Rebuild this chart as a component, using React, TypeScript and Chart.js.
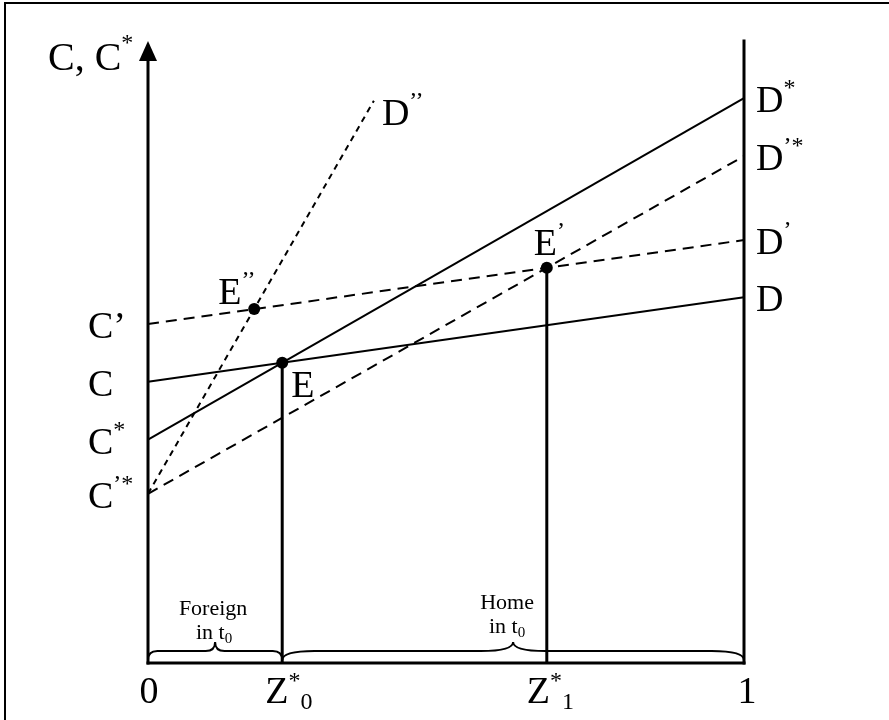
import React, { useEffect, useRef } from "react";
import { Chart, registerables } from "chart.js";

Chart.register(...registerables);

// ---- data (x: share 0..1, y: consumption level, axis top = 10) ----
const X_RANGE = [0, 1];
const Y_RANGE = [0, 10];
// straight lines given by their value at x = 0 and at x = 1
const lineLabels = ["D", "D*", "D'", "D'*"];
const valuesAtZero = [4.52, 3.59, 5.45, 2.72];
const valuesAtOne = [5.88, 9.08, 6.8, 8.15];
// the steep D'' line (starts at C'*)
const dDoubleX = [0, 0.379];
const dDoubleY = [2.72, 9.04];
// left intercept labels, in order of valuesAtZero
const leftLabels = ["C", "C*", "C’", "C’*"];

const FAM = '"Liberation Serif", "Times New Roman", Times, serif';

type Pt = { x: number; y: number };
function intersect(a1: Pt, a2: Pt, b1: Pt, b2: Pt): Pt {
  const d = (a1.x - a2.x) * (b1.y - b2.y) - (a1.y - a2.y) * (b1.x - b2.x);
  const t = ((a1.x - b1.x) * (b1.y - b2.y) - (a1.y - b1.y) * (b1.x - b2.x)) / d;
  return { x: a1.x + t * (a2.x - a1.x), y: a1.y + t * (a2.y - a1.y) };
}
const linePts = (i: number): Pt[] => [
  { x: X_RANGE[0], y: valuesAtZero[i] },
  { x: X_RANGE[1], y: valuesAtOne[i] },
];
const dDoublePts: Pt[] = [
  { x: dDoubleX[0], y: dDoubleY[0] },
  { x: dDoubleX[1], y: dDoubleY[1] },
];
const E = intersect(linePts(0)[0], linePts(0)[1], linePts(1)[0], linePts(1)[1]);
const E1 = intersect(linePts(2)[0], linePts(2)[1], linePts(3)[0], linePts(3)[1]);
const E2 = intersect(linePts(2)[0], linePts(2)[1], dDoublePts[0], dDoublePts[1]);

type Part = { t: string; size: number; dy?: number };
function drawParts(ctx: CanvasRenderingContext2D, x: number, y: number, parts: Part[], align: "left" | "center" = "left") {
  const widths = parts.map((p) => {
    ctx.font = `${p.size}px ${FAM}`;
    return ctx.measureText(p.t).width;
  });
  const total = widths.reduce((a, b) => a + b, 0);
  let cx = align === "center" ? x - total / 2 : x;
  ctx.textAlign = "left";
  ctx.textBaseline = "alphabetic";
  parts.forEach((p, i) => {
    ctx.font = `${p.size}px ${FAM}`;
    ctx.fillText(p.t, cx, y + (p.dy || 0));
    cx += widths[i];
  });
}

const BIG = 38;
const SUP = 24;
const sup = (t: string, dy = -17): Part => ({ t, size: SUP, dy });
function labelParts(label: string): Part[] {
  if (label === "C’") return [{ t: "C’", size: BIG }];
  const base = label[0];
  const rest = label.slice(1).replace(/'/g, "’");
  const parts: Part[] = [{ t: base, size: BIG }];
  if (rest) parts.push(sup(rest));
  return parts;
}

function drawBrace(ctx: CanvasRenderingContext2D, x0: number, x1: number, yb: number) {
  const w = x1 - x0;
  const r = w * 0.07;
  const mid = (x0 + x1) / 2;
  const yh = yb - 12;
  const yt = yb - 21;
  const ye = yb - 3;
  ctx.beginPath();
  ctx.moveTo(x0, ye);
  ctx.quadraticCurveTo(x0, yh, x0 + r, yh);
  ctx.lineTo(mid - r, yh);
  ctx.quadraticCurveTo(mid, yh, mid, yt);
  ctx.quadraticCurveTo(mid, yh, mid + r, yh);
  ctx.lineTo(x1 - r, yh);
  ctx.quadraticCurveTo(x1, yh, x1, ye);
  ctx.stroke();
}

const diagramPlugin = {
  id: "diagram",
  beforeDraw(chart: any) {
    const ctx = chart.ctx as CanvasRenderingContext2D;
    ctx.save();
    ctx.fillStyle = "#fff";
    ctx.fillRect(0, 0, chart.width, chart.height);
    ctx.restore();
  },
  afterDraw(chart: any) {
    const ctx = chart.ctx as CanvasRenderingContext2D;
    const xs = chart.scales.x;
    const ys = chart.scales.y;
    const px = (v: number) => xs.getPixelForValue(v);
    const py = (v: number) => ys.getPixelForValue(v);
    const left = px(X_RANGE[0]);
    const right = px(X_RANGE[1]);
    const base = py(Y_RANGE[0]);
    const top = py(Y_RANGE[1]);
    ctx.save();
    ctx.fillStyle = "#000";
    ctx.strokeStyle = "#000";

    // outer frame (left + top)
    ctx.lineWidth = 2;
    ctx.beginPath();
    ctx.moveTo(5, chart.height);
    ctx.lineTo(5, 3);
    ctx.lineTo(chart.width, 3);
    ctx.stroke();

    // arrow head
    ctx.beginPath();
    ctx.moveTo(left, top);
    ctx.lineTo(left - 9, top + 20);
    ctx.lineTo(left + 9, top + 20);
    ctx.closePath();
    ctx.fill();

    // axis title
    drawParts(ctx, 48, 70, [{ t: "C, C", size: 40 }, sup("*", -20)]);

    // left intercept labels
    valuesAtZero.forEach((v, i) => {
      drawParts(ctx, left - 60, py(v) + 14, labelParts(leftLabels[i]));
    });
    // right end labels
    valuesAtOne.forEach((v, i) => {
      drawParts(ctx, right + 12, py(v) + 14, labelParts(lineLabels[i]));
    });
    // D'' label
    drawParts(ctx, px(dDoubleX[1]) + 8, py(dDoubleY[1]) + 24, [{ t: "D", size: BIG }, sup("’’")]);

    // equilibrium labels
    drawParts(ctx, px(E2.x) - 36, py(E2.y) - 5, [{ t: "E", size: BIG }, sup("’’")]);
    drawParts(ctx, px(E.x) + 9, py(E.y) + 34, [{ t: "E", size: BIG }]);
    drawParts(ctx, px(E1.x) - 13, py(E1.y) - 13, [{ t: "E", size: BIG }, sup("’")]);

    // bottom labels
    const by = base + 40;
    drawParts(ctx, left + 1, by, [{ t: "0", size: BIG }], "center");
    drawParts(ctx, right + 3, by, [{ t: "1", size: BIG }], "center");
    drawParts(ctx, px(E.x) - 17, by, [{ t: "Z", size: BIG }, sup("*", -15), { t: "0", size: SUP, dy: 6 }]);
    drawParts(ctx, px(E1.x) - 20, by, [{ t: "Z", size: BIG }, sup("*", -15), { t: "1", size: SUP, dy: 6 }]);

    // braces
    ctx.lineWidth = 2;
    drawBrace(ctx, left, px(E.x), base);
    drawBrace(ctx, px(E.x), right, base);

    // brace texts
    const m1 = (left + px(E.x)) / 2;
    const m2 = (px(E.x) + right) / 2;
    drawParts(ctx, m1 - 2, base - 48, [{ t: "Foreign", size: 22 }], "center");
    drawParts(ctx, m1 - 1, base - 24, [{ t: "in t", size: 22 }, { t: "0", size: 15, dy: 4 }], "center");
    drawParts(ctx, m2 - 6, base - 54, [{ t: "Home", size: 22 }], "center");
    drawParts(ctx, m2 - 6, base - 30, [{ t: "in t", size: 22 }, { t: "0", size: 15, dy: 4 }], "center");

    ctx.restore();
  },
};

export default function App() {
  const ref = useRef<HTMLCanvasElement | null>(null);
  useEffect(() => {
    if (!ref.current) return;
    const common = { pointRadius: 0, borderColor: "#000", showLine: true, clip: false as any, fill: false };
    const chart = new Chart(ref.current, {
      type: "scatter",
      data: {
        datasets: [
          {
            label: "points",
            data: [E, E1, E2],
            pointRadius: 6,
            pointBackgroundColor: "#000",
            pointBorderWidth: 0,
            showLine: false,
            order: -1,
            clip: false as any,
          },
          { ...common, label: "D", data: linePts(0), borderWidth: 2 },
          { ...common, label: "D*", data: linePts(1), borderWidth: 2 },
          { ...common, label: "D'", data: linePts(2), borderWidth: 2, borderDash: [11, 7] },
          { ...common, label: "D'*", data: linePts(3), borderWidth: 2, borderDash: [11, 7] },
          { ...common, label: "D''", data: dDoublePts, borderWidth: 2, borderDash: [6, 5] },
          { ...common, label: "Z0", data: [{ x: E.x, y: 0 }, { x: E.x, y: E.y }], borderWidth: 3 },
          { ...common, label: "Z1", data: [{ x: E1.x, y: 0 }, { x: E1.x, y: E1.y }], borderWidth: 3 },
          { ...common, label: "yaxis", data: [{ x: 0, y: 0 }, { x: 0, y: Y_RANGE[1] - 0.3 }], borderWidth: 3, borderCapStyle: "square" },
          { ...common, label: "right", data: [{ x: 1, y: 0 }, { x: 1, y: Y_RANGE[1] }], borderWidth: 3, borderCapStyle: "square" },
          { ...common, label: "base", data: [{ x: 0, y: 0 }, { x: 1, y: 0 }], borderWidth: 3, borderCapStyle: "square" },
        ] as any,
      },
      options: {
        responsive: false,
        devicePixelRatio: 1,
        animation: false,
        events: [],
        layout: { padding: { left: 148, right: 145, top: 41, bottom: 57 } },
        plugins: { legend: { display: false }, tooltip: { enabled: false } },
        scales: {
          x: { type: "linear", min: X_RANGE[0], max: X_RANGE[1], display: false },
          y: { type: "linear", min: Y_RANGE[0], max: Y_RANGE[1], display: false },
        },
      },
      plugins: [diagramPlugin],
    });
    return () => chart.destroy();
  }, []);
  return (
    <div style={{ position: "absolute", left: 0, top: 0, width: 889, height: 720, background: "#fff" }}>
      <canvas ref={ref} width={889} height={720} style={{ display: "block" }} />
    </div>
  );
}
